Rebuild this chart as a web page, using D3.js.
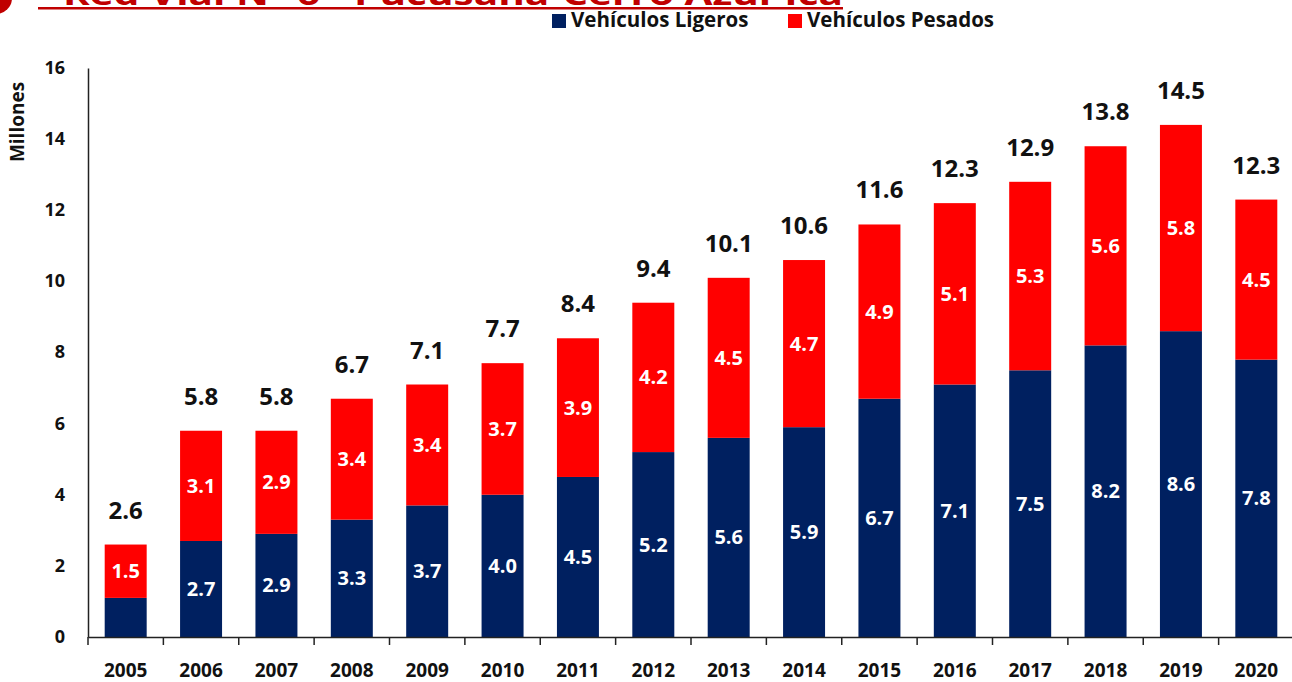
<!DOCTYPE html>
<html><head>
<meta charset="utf-8">
<script src="https://d3js.org/d3.v7.min.js"></script>
<style>
  body { margin: 0; background: #fff; }
  text { font-family: "Open Sans", "Noto Sans", sans-serif; font-weight: 700; }
  .axis text { font-size: 18px; fill: #111; }
</style>
</head>
<body>
<svg id="chart" width="1292" height="682"></svg>
<script>
// data
const years = ["2005","2006","2007","2008","2009","2010","2011","2012","2013","2014","2015","2016","2017","2018","2019","2020"];
const ligeros = [1.1, 2.7, 2.9, 3.3, 3.7, 4.0, 4.5, 5.2, 5.6, 5.9, 6.7, 7.1, 7.5, 8.2, 8.6, 7.8];
const pesados = [1.5, 3.1, 2.9, 3.4, 3.4, 3.7, 3.9, 4.2, 4.5, 4.7, 4.9, 5.1, 5.3, 5.6, 5.8, 4.5];
const totales = [2.6, 5.8, 5.8, 6.7, 7.1, 7.7, 8.4, 9.4, 10.1, 10.6, 11.6, 12.3, 12.9, 13.8, 14.5, 12.3];
const yTicks = [0, 2, 4, 6, 8, 10, 12, 14, 16];

const svg = d3.select("#chart");
const blue = "#002060", red = "#ff0000";

const x = d3.scaleBand().domain(years).range([88, 1294]).paddingInner(0.443).paddingOuter(0.2215);
const y = d3.scaleLinear().domain([0, 16]).range([637, 68]);

// cut off title at the top
svg.append("circle").attr("cx", -4).attr("cy", -2).attr("r", 16).attr("fill", "#c00000");
svg.append("text").attr("x", 63).attr("y", 5)
   .attr("textLength", 780).attr("lengthAdjust", "spacingAndGlyphs")
   .style("font-size", "30px").attr("fill", "#c00000")
   .text("Red Vial N° 6 - Pucusana-Cerro Azul-Ica");
svg.append("rect").attr("x", 38).attr("y", 7).attr("width", 805).attr("height", 2.5).attr("fill", "#c00000");

// legend
const legend = [{name: "Vehículos Ligeros", color: blue, x: 552}, {name: "Vehículos Pesados", color: red, x: 788}];
legend.forEach(l => {
  svg.append("rect").attr("x", l.x).attr("y", 14).attr("width", 14).attr("height", 14).attr("fill", l.color);
  svg.append("text").attr("x", l.x + 19).attr("y", 27).style("font-size", "20.5px").attr("fill", "#111").text(l.name);
});

// stacked bars
const rows = years.map((yr, i) => ({year: yr, lig: ligeros[i], pes: pesados[i], tot: totales[i]}));
const g = svg.append("g");
g.selectAll("rect.lig").data(rows).join("rect").attr("class", "lig")
  .attr("x", d => x(d.year)).attr("width", x.bandwidth())
  .attr("y", d => y(d.lig)).attr("height", d => y(0) - y(d.lig))
  .attr("fill", blue);
g.selectAll("rect.pes").data(rows).join("rect").attr("class", "pes")
  .attr("x", d => x(d.year)).attr("width", x.bandwidth())
  .attr("y", d => y(d.lig + d.pes)).attr("height", d => y(d.lig) - y(d.lig + d.pes))
  .attr("fill", red);

// labels inside bars (2005 ligeros label is not shown)
g.selectAll("text.lig").data(rows.filter(d => d.year !== "2005")).join("text").attr("class", "lig")
  .attr("x", d => x(d.year) + x.bandwidth() / 2)
  .attr("y", d => (y(d.lig) + y(0)) / 2 + 7)
  .attr("text-anchor", "middle").attr("fill", "#fff").style("font-size", "20px")
  .text(d => d.lig.toFixed(1));
g.selectAll("text.pes").data(rows).join("text").attr("class", "pes")
  .attr("x", d => x(d.year) + x.bandwidth() / 2)
  .attr("y", d => (y(d.lig) + y(d.lig + d.pes)) / 2 + 7)
  .attr("text-anchor", "middle").attr("fill", "#fff").style("font-size", "20px")
  .text(d => d.pes.toFixed(1));
g.selectAll("text.tot").data(rows).join("text").attr("class", "tot")
  .attr("x", d => x(d.year) + x.bandwidth() / 2)
  .attr("y", d => y(d.lig + d.pes) - 26)
  .attr("text-anchor", "middle").attr("fill", "#111").style("font-size", "24px")
  .text(d => d.tot.toFixed(1));

// axes
const xAxis = svg.append("g").attr("class", "axis").attr("transform", `translate(0,${y(0)})`)
  .call(d3.axisBottom(x).tickSize(0).tickPadding(27));
xAxis.selectAll(".tick text").style("font-size", "19px");
xAxis.select(".domain").attr("stroke", "#222").attr("stroke-width", 1.5);
const bounds = years.map(yr => x(yr) - (x.step() - x.bandwidth()) / 2);
xAxis.selectAll("line.bound").data(bounds).join("line").attr("class", "bound")
  .attr("x1", d => d).attr("x2", d => d).attr("y1", 0).attr("y2", 8)
  .attr("stroke", "#222").attr("stroke-width", 1.5);

const yAxis = svg.append("g").attr("class", "axis").attr("transform", "translate(88,0)")
  .call(d3.axisLeft(y).tickValues(yTicks).tickSize(0).tickPadding(23));
yAxis.select(".domain").attr("stroke", "#222").attr("stroke-width", 1.5);
yAxis.selectAll(".tick text").attr("dy", "0.3em");

svg.append("text").attr("transform", "translate(24,122) rotate(-90)")
  .attr("text-anchor", "middle").style("font-size", "19px").attr("fill", "#111").text("Millones");
</script>
</body>
</html>
